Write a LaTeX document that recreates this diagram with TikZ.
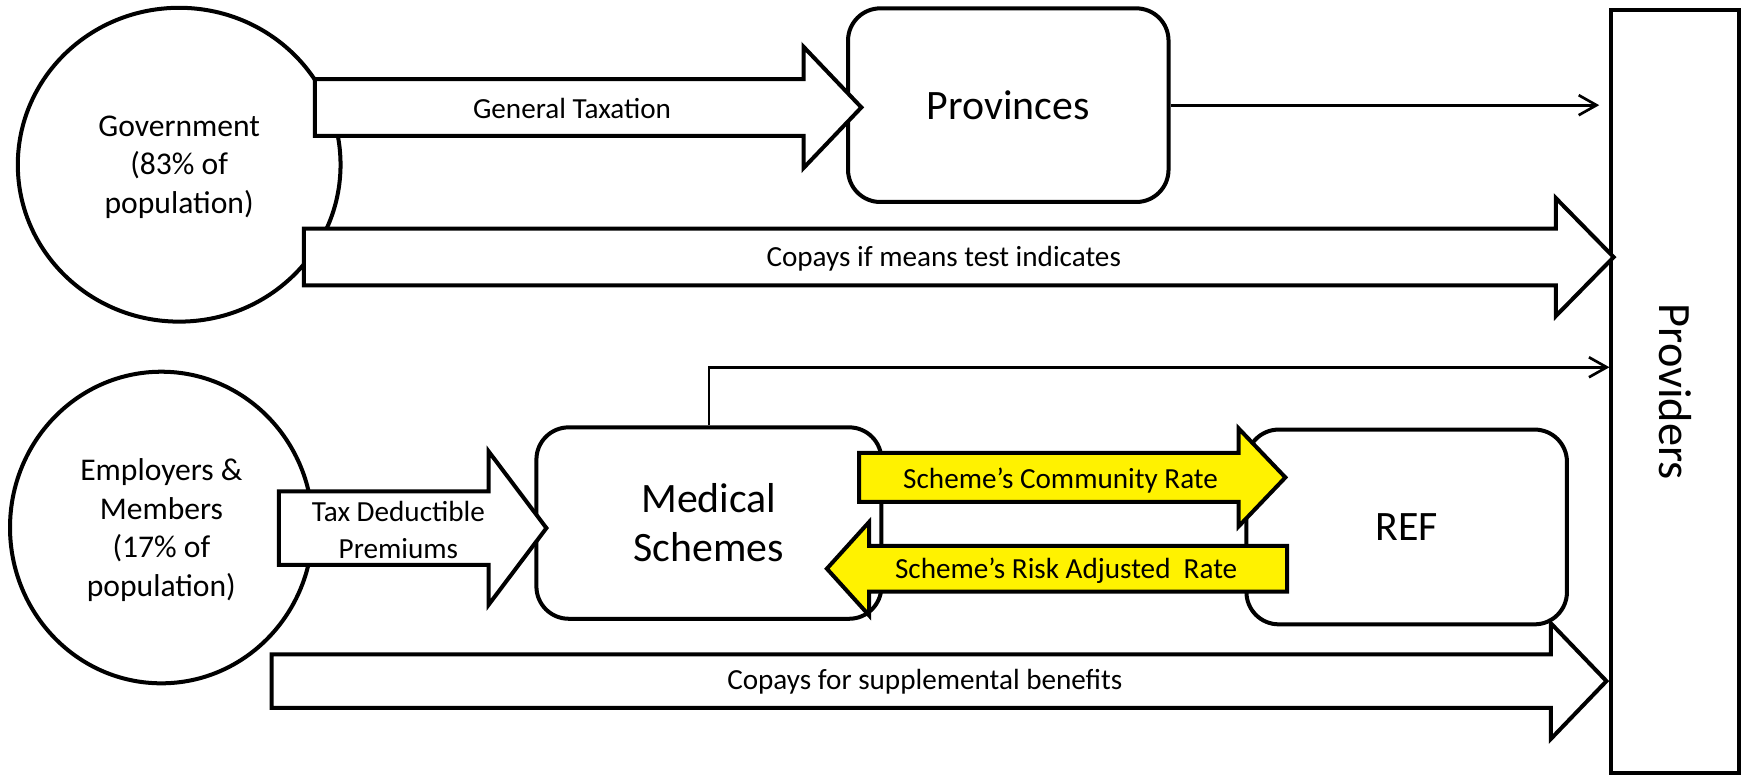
\documentclass[tikz,border=0pt]{standalone}
\usepackage{fontspec}
\setmainfont{Carlito}
\usepackage{xcolor}
\usepackage{graphicx}
\usepackage{tikz}
\usetikzlibrary{shapes.geometric, arrows.meta, calc}

\begin{document}
\begin{tikzpicture}[
        x=0.5pt, y=-0.5pt,
        line width=1.8pt,
        party/.style={ellipse, draw, fill=white, align=center, text depth=0pt, font=\fontsize{14.2}{17.25}\selectfont},
        box/.style={rectangle, rounded corners=14.5pt, draw, fill=white, align=center, minimum width=144pt, minimum height=87pt, font=\fontsize{18.8}{22}\selectfont},
        fat/.style n args={3}{line join=miter, to path={
            let \p1=(\tikztostart), \p2=(\tikztotarget) in
            (\x1,{\y1+#1}) -- ({\x2-(#3)},{\y1+#1}) -- ({\x2-(#3)},{\y1+#2}) -- (\x2,\y1)
            -- ({\x2-(#3)},{\y1-(#2)}) -- ({\x2-(#3)},{\y1-(#1)}) -- (\x1,{\y1-(#1)}) -- cycle}},
        lbl/.style={align=center, text height=9pt, text depth=2.5pt, font=\fontsize{13.1}{16.5}\selectfont},
        arrow/.style={line width=1.2pt, -{Straight Barb[length=8pt, width=9pt]}}
    ]
        \useasboundingbox (0,0) rectangle (1568,697);
        \node[party, minimum width=145pt, minimum height=141pt] (gov) at (161,148) {Government\\(83\% of\\population)};
        \node[party, minimum width=136pt, minimum height=140pt] (emp) at (145,474) {Employers \&\\Members\\(17\% of\\population)};
        \node[box] (prov) at (906,94.5) {Provinces};
        \node[box, minimum width=155pt, minimum height=86pt] (med) at (637,470) {Medical\\Schemes};
        \node[box, minimum height=87.5pt] (ref) at (1264,473.5) {REF};
        \node[draw, fill=white, minimum width=57.5pt, minimum height=343pt, font=\fontsize{20.8}{24}\selectfont] (prv) at (1505.5,352) {\rotatebox{-90}{Providers}};

        \coordinate (tax-s) at (283,96.5);
        \coordinate (tax-e) at (774,96.5);
        \coordinate (cop-s) at (273,231);
        \coordinate (cop-e) at (1450,231);
        \coordinate (prem-s) at (250.5,474.5);
        \coordinate (prem-e) at (491,474.5);
        \coordinate (comm-s) at (772,429);
        \coordinate (comm-e) at (1155,429);
        \coordinate (risk-s) at (1156.5,511);
        \coordinate (risk-e) at (743,511);
        \coordinate (supp-s) at (244,612);
        \coordinate (supp-e) at (1443.5,612);

        \draw[fat={12.75pt}{27.25pt}{26pt}, fill=white] (tax-s) to (tax-e);
        \draw[fat={12.75pt}{26.5pt}{26pt}, fill=white] (cop-s) to (cop-e);
        \draw[fat={16.5pt}{34.5pt}{26pt}, fill=white] (prem-s) to (prem-e);
        \draw[fat={11pt}{22pt}{21pt}, fill=yellow] (comm-s) to (comm-e);
        \draw[fat={10.25pt}{21pt}{-19pt}, fill=yellow] (risk-s) to (risk-e);
        \draw[fat={12pt}{26pt}{25pt}, fill=white] (supp-s) to (supp-e);

        \node[lbl] (tax) at (514,100) {General Taxation};
        \node[lbl] (cop) at (848,233) {Copays if means test indicates};
        \node[lbl, text height=, text depth=] (prem) at (358,476) {Tax Deductible\\Premiums};
        \node[lbl] (comm) at (953,432) {Scheme’s Community Rate};
        \node[lbl] (risk) at (958,513) {Scheme’s Risk Adjusted\ \ Rate};
        \node[lbl] (supp) at (831,613) {Copays for supplemental benefits};

        \draw[arrow, shorten >=4.6pt] (prov.east) -- (prov.east -| prv.west);
        \coordinate (ms-up) at (637,330);
        \draw[arrow] (med.north) -- (ms-up) -- (ms-up -| prv.west);
    \end{tikzpicture}
\end{document}
